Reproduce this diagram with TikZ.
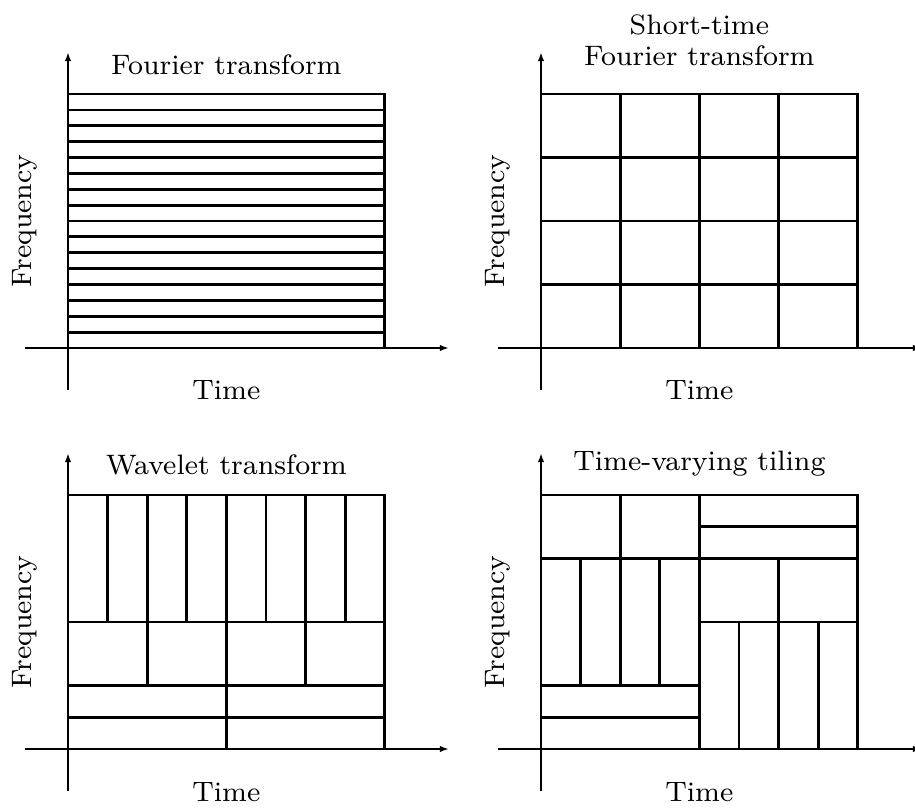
\documentclass[tikz,border=0pt]{standalone}
\usepackage{tikz}
\usetikzlibrary{arrows.meta}

\begin{document}
\begin{tikzpicture}[x=0.02cm,y=0.02cm,>={Latex[length=1.8mm,width=1.3mm]},
  tile/.style={line width=1.6pt},
  axis/.style={->,line width=1.1pt},
  caption/.style={font=\fontsize{8}{9}\selectfont,scale=2}]
\useasboundingbox (0,0) rectangle (915,807);

% Fourier transform
\begin{scope}[shift={(68,459)},x=0.792cm,y=0.635cm]
\draw[axis] (-1.09,0) -- (9.62,0);
\draw[axis] (0,-1.32) -- (0,9.32);
\draw[tile] (0,0) rectangle (8,8);
\foreach \y in {0.5,1,...,7.5} \draw[tile] (0,\y) -- (8,\y);
\node[caption] (ft) at (4,8.91) {Fourier transform};
\node[caption,rotate=90] (ftfreq) at (-1.09,4) {Frequency};
\node[caption] (fttime) at (4,-1.32) {Time};
\end{scope}

% Short-time Fourier transform
\begin{scope}[shift={(541,459)},x=0.792cm,y=0.635cm]
\draw[axis] (-1.09,0) -- (9.62,0);
\draw[axis] (0,-1.32) -- (0,9.32);
\draw[tile] (0,0) rectangle (8,8);
\foreach \i in {2,4,6} \draw[tile] (\i,0) -- (\i,8) (0,\i) -- (8,\i);
\node[caption,align=center] (stft) at (4,9.70) {Short-time\\Fourier transform};
\node[caption,rotate=90] (stftfreq) at (-1.09,4) {Frequency};
\node[caption] (stfttime) at (4,-1.32) {Time};
\end{scope}

% Wavelet transform
\begin{scope}[shift={(68,58)},x=0.792cm,y=0.635cm]
\draw[axis] (-1.09,0) -- (9.62,0);
\draw[axis] (0,-1.32) -- (0,9.32);
\draw[tile] (0,0) rectangle (8,8);
\foreach \y in {1,2,4} \draw[tile] (0,\y) -- (8,\y);
\draw[tile] (4,0) -- (4,8);
\foreach \x in {2,6} \draw[tile] (\x,2) -- (\x,8);
\foreach \x in {1,3,5,7} \draw[tile] (\x,4) -- (\x,8);
\node[caption] (wt) at (4,8.94) {Wavelet transform};
\node[caption,rotate=90] (wtfreq) at (-1.09,4) {Frequency};
\node[caption] (wttime) at (4,-1.35) {Time};
\end{scope}

% Time-varying tiling
\begin{scope}[shift={(541,58)},x=0.792cm,y=0.635cm]
\draw[axis] (-1.09,0) -- (9.62,0);
\draw[axis] (0,-1.32) -- (0,9.32);
\draw[tile] (0,0) rectangle (8,8);
\draw[tile] (0,6) -- (8,6) (4,7) -- (8,7) (4,4) -- (8,4);
\draw[tile] (0,1) -- (4,1) (0,2) -- (4,2);
\draw[tile] (4,0) -- (4,8) (2,2) -- (2,8) (6,0) -- (6,6);
\foreach \x in {1,3} \draw[tile] (\x,2) -- (\x,6);
\foreach \x in {5,7} \draw[tile] (\x,0) -- (\x,4);
\node[caption] (tvt) at (4,9.0) {Time-varying tiling};
\node[caption,rotate=90] (tvtfreq) at (-1.09,4) {Frequency};
\node[caption] (tvttime) at (4,-1.35) {Time};
\end{scope}
\end{tikzpicture}
\end{document}
